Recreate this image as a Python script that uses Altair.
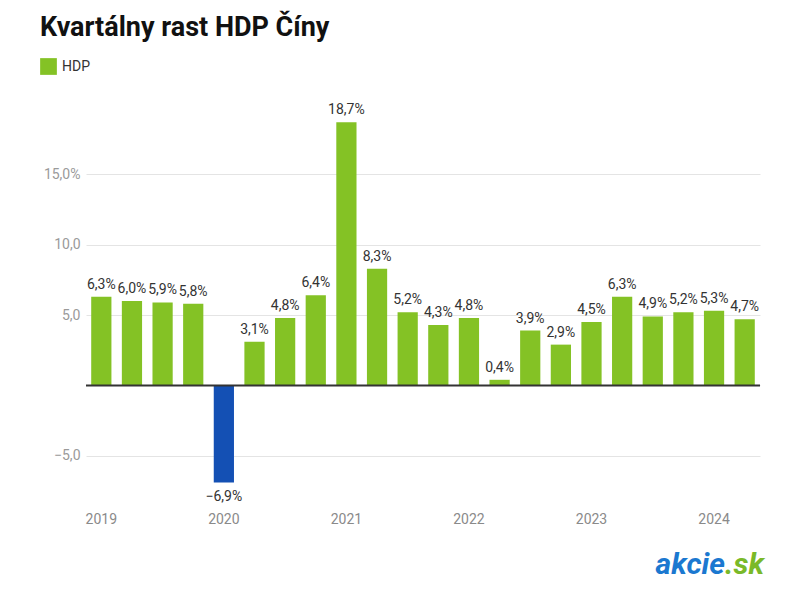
import altair as alt
import pandas as pd

quarters = ["2019Q1","2019Q2","2019Q3","2019Q4",
            "2020Q1","2020Q2","2020Q3","2020Q4",
            "2021Q1","2021Q2","2021Q3","2021Q4",
            "2022Q1","2022Q2","2022Q3","2022Q4",
            "2023Q1","2023Q2","2023Q3","2023Q4",
            "2024Q1","2024Q2"]
values = [6.3, 6.0, 5.9, 5.8,
          -6.9, 3.1, 4.8, 6.4,
          18.7, 8.3, 5.2, 4.3,
          4.8, 0.4, 3.9, 2.9,
          4.5, 6.3, 4.9, 5.2,
          5.3, 4.7]
y_ticks = [-5, 0, 5, 10, 15]

GREEN = "#84c225"
BLUE = "#1450b4"

def fmt(v):
    s = f"{abs(v):.1f}".replace(".", ",") + "%"
    return ("\u2212" + s) if v < 0 else s

df = pd.DataFrame({
    "q": quarters,
    "v": values,
    "series": ["HDP"] * len(values),
    "label": [fmt(v) for v in values],
})

FONT = "Roboto"

x_enc = alt.X("q:O", sort=quarters, title=None,
              scale=alt.Scale(paddingInner=0.34, paddingOuter=0.17),
              axis=alt.Axis(labelExpr="slice(datum.value, 4) == 'Q1' ? slice(datum.value, 0, 4) : ''",
                            labelAngle=0, labelColor="#8a8a8a", labelFontSize=14,
                            labelFont=FONT, labelPadding=14, ticks=False, domain=False,
                            grid=False))
y_scale = alt.Scale(domain=[-8, 20], nice=False)

base = alt.Chart(df)

bars = base.mark_bar().encode(
    x=x_enc,
    y=alt.Y("v:Q", scale=y_scale, title=None,
            axis=alt.Axis(values=y_ticks,
                          labelExpr="datum.value == 15 ? '15,0%' : datum.value == 0 ? '' : replace(format(datum.value, '.1f'), '.', ',')",
                          labelColor="#9a9a9a", labelFontSize=14, labelFont=FONT,
                          labelPadding=6, ticks=False, domain=False,
                          gridColor="#e4e4e4", gridWidth=1)),
    color=alt.condition(alt.datum.v < 0, alt.value(BLUE),
                        alt.Color("series:N", scale=alt.Scale(domain=["HDP"], range=[GREEN]),
                                  legend=alt.Legend(title=None, orient="none", legendX=-46, legendY=-46,
                                                    symbolType="square", symbolSize=280,
                                                    symbolStrokeWidth=0, labelFontSize=14,
                                                    labelFont=FONT, labelColor="#333333",
                                                    labelOffset=5))),
)

labels_pos = base.transform_filter(alt.datum.v >= 0).mark_text(
    dy=-12, fontSize=14, font=FONT, color="#333333"
).encode(x=alt.X("q:O", sort=quarters), y=alt.Y("v:Q", scale=y_scale), text="label:N")

labels_neg = base.transform_filter(alt.datum.v < 0).mark_text(
    dy=14, fontSize=14, font=FONT, color="#333333"
).encode(x=alt.X("q:O", sort=quarters), y=alt.Y("v:Q", scale=y_scale), text="label:N")

zero = alt.Chart(pd.DataFrame({"z": [0]})).mark_rule(color="#333333", strokeWidth=2).encode(
    y=alt.Y("z:Q", scale=y_scale)
)

logo_a = alt.Chart(pd.DataFrame({"t": ["akcie"]})).mark_text(
    align="right", baseline="alphabetic", fontSize=30, fontWeight="bold", fontStyle="italic",
    font=FONT, color="#1b78d0"
).encode(x=alt.value(639), y=alt.value(470), text="t:N")

logo_b = alt.Chart(pd.DataFrame({"t": [".sk"]})).mark_text(
    align="left", baseline="alphabetic", fontSize=30, fontWeight="bold", fontStyle="italic",
    font=FONT, color="#7ab929"
).encode(x=alt.value(639), y=alt.value(470), text="t:N")

chart = alt.layer(bars, zero, labels_pos, labels_neg, logo_a, logo_b).properties(
    width=674, height=394,
    title=alt.TitleParams("Kvartálny rast HDP Číny", anchor="start", frame="group",
                          dx=-46, offset=16, fontSize=27, font=FONT, fontWeight="bold",
                          color="#111111"),
    autosize=alt.AutoSizeParams(type="none"),
    padding={"left": 78, "top": 96, "right": 24, "bottom": 86},
).configure(background="white", view=alt.ViewConfig(strokeWidth=0, stroke="transparent"))

chart.save("out.html", embed_options={"renderer": "svg", "actions": False})
